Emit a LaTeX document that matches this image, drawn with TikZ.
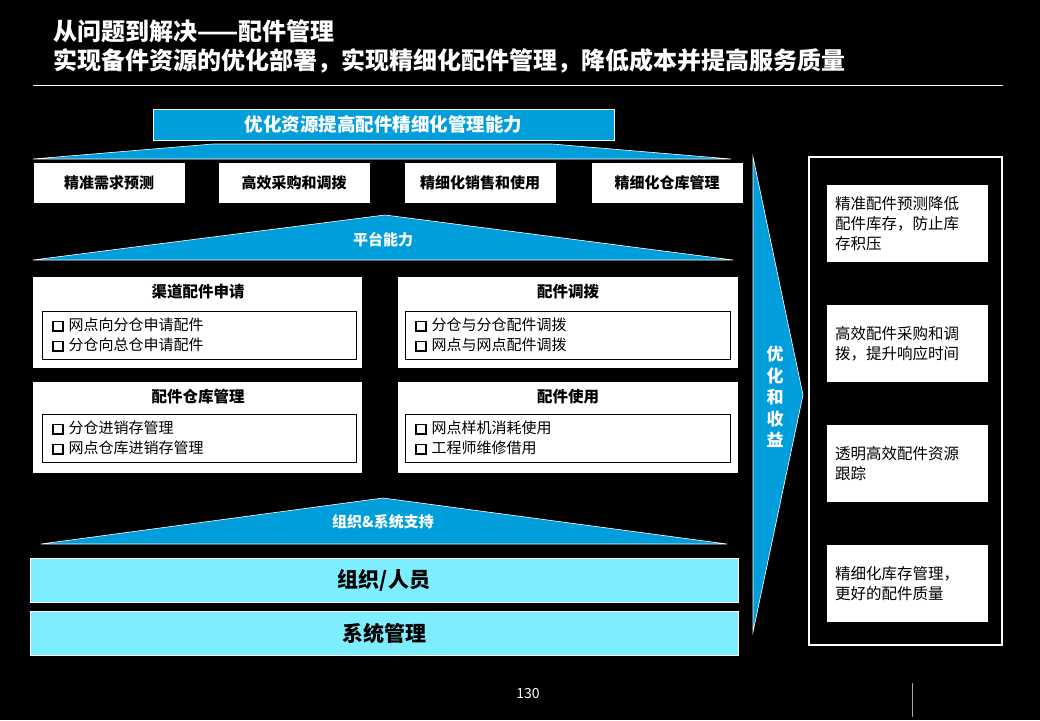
\documentclass[tikz,border=0pt]{standalone}
\usepackage{fontspec}
\setmainfont{Noto Sans CJK SC}
\usepackage{xcolor}
\usepackage{tikz}
\definecolor{roofblue}{RGB}{0,158,219}
\definecolor{basecyan}{RGB}{125,238,255}
\newcommand\sqmark{\raisebox{0pt}{\setlength\fboxrule{1.7pt}\setlength\fboxsep{0pt}\fbox{\rule{0pt}{8pt}\rule{8pt}{0pt}}}\hspace{5pt}}
\tikzset{
  titletext/.style={anchor=base west,text=white,inner sep=0pt,
    font=\fontsize{24}{28}\selectfont\bfseries},
  roofshape/.style={fill=roofblue,draw=white,line width=0.6pt},
  rooflabel/.style={text=white,font=\fontsize{15}{18}\selectfont\bfseries},
  goalnode/.style={rectangle,fill=white,minimum width=151pt,
    minimum height=40pt,inner sep=1pt,font=\fontsize{15}{18}\selectfont\bfseries},
  modulenode/.style={rectangle,fill=white,minimum height=91pt,inner sep=0pt},
  innernode/.style={rectangle,draw=black,line width=0.8pt,fill=white,
    minimum height=48pt,inner sep=0pt},
  moduletitle/.style={font=\fontsize{15.5}{18}\selectfont\bfseries},
  itemtext/.style={anchor=west,align=left,inner sep=0pt,
    font=\fontsize{15}{20}\selectfont},
  basenode/.style={rectangle,fill=basecyan,draw=white,line width=0.8pt,
    minimum width=708pt,minimum height=44pt,inner sep=0pt,
    font=\fontsize{21}{24}\selectfont\bfseries},
  gainnode/.style={rectangle,fill=white,minimum width=161pt,minimum height=77pt,
    text width=145pt,inner sep=8pt,align=left,
    font=\fontsize{15.5}{20}\selectfont}
}
\begin{document}
\begin{tikzpicture}[x=1pt,y=-1pt]
  \fill[black] (0,0) rectangle (1040,720);
  \useasboundingbox (0,0) rectangle (1040,720);

  % title
  \node[titletext] (title1) at (53,40) {从问题到解决——配件管理};
  \node[titletext] (title2) at (53,69) {实现备件资源的优化部署，实现精细化配件管理，降低成本并提高服务质量};
  \draw[white,line width=0.8pt] (33,85) -- (1003,85);

  % top banner and roof
  \node[rectangle,fill=roofblue,draw=white,line width=0.6pt,minimum width=461pt,
    minimum height=31pt,text=white,font=\fontsize{18.5}{20}\selectfont\bfseries]
    (banner) at (383.5,124.5) {优化资源提高配件精细化管理能力};
  \draw[roofshape] (33,159) -- (213,144) -- (552,144) -- (731,159) -- cycle;

  \node[goalnode] (g1) at (109,183) {精准需求预测};
  \node[goalnode] (g2) at (294,183) {高效采购和调拨};
  \node[goalnode] (g3) at (480,183) {精细化销售和使用};
  \node[goalnode] (g4) at (667,183) {精细化仓库管理};

  % platform
  \draw[roofshape] (33,260) -- (385,215) -- (733,260) -- cycle;
  \node[rooflabel] (platform) at (383,240) {平台能力};

  \node[modulenode,minimum width=329pt] (m1) at (197.5,322.5) {};
  \node[modulenode,minimum width=340pt] (m2) at (568,322.5) {};
  \node[modulenode,minimum width=329pt] (m3) at (197.5,427.5) {};
  \node[modulenode,minimum width=340pt] (m4) at (568,427.5) {};

  \node[moduletitle] (t1) at (198,292) {渠道配件申请};
  \node[moduletitle] (t2) at (568,292) {配件调拨};
  \node[moduletitle] (t3) at (198,397) {配件仓库管理};
  \node[moduletitle] (t4) at (568,397) {配件使用};

  \node[innernode,minimum width=314pt] (b1) at (199,335) {};
  \node[innernode,minimum width=325pt] (b2) at (567.5,335) {};
  \node[innernode,minimum width=314pt] (b3) at (199,438) {};
  \node[innernode,minimum width=325pt] (b4) at (567.5,438) {};

  \node[itemtext] (i1) at (52,335) {\sqmark 网点向分仓申请配件\\\sqmark 分仓向总仓申请配件};
  \node[itemtext] (i2) at (415,335) {\sqmark 分仓与分仓配件调拨\\\sqmark 网点与网点配件调拨};
  \node[itemtext] (i3) at (52,438) {\sqmark 分仓进销存管理\\\sqmark 网点仓库进销存管理};
  \node[itemtext] (i4) at (415,438) {\sqmark 网点样机消耗使用\\\sqmark 工程师维修借用};

  % support
  \draw[roofshape] (41,544) -- (383,498) -- (727,544) -- cycle;
  \node[rooflabel] (support) at (383,522) {组织\&系统支持};
  \node[basenode] (org) at (384,580) {组织/人员};
  \node[basenode] (sys) at (384,633) {系统管理};

  % gains
  \draw[roofshape] (753,157) -- (803,395) -- (753,632) -- cycle;
  \node[text=white,align=center,inner sep=0pt,
    font=\fontsize{17}{21.5}\selectfont\bfseries] (gain) at (775,397)
    {优\\化\\和\\收\\益};
  \draw[white,line width=1.6pt] (809,157) rectangle (1002,645);
  \node[gainnode] (r1) at (907.5,223.5) {精准配件预测降低\\配件库存，防止库\\存积压};
  \node[gainnode] (r2) at (907.5,343.5) {高效配件采购和调\\拨，提升响应时间};
  \node[gainnode] (r3) at (907.5,463.5) {透明高效配件资源\\跟踪};
  \node[gainnode] (r4) at (907.5,583.5) {精细化库存管理，\\更好的配件质量};

  \node[text=white,font=\fontsize{14}{16}\selectfont] (page) at (528,693) {130};
  \draw[gray!70,line width=0.6pt] (912,683) -- (912,717);
\end{tikzpicture}
\end{document}
